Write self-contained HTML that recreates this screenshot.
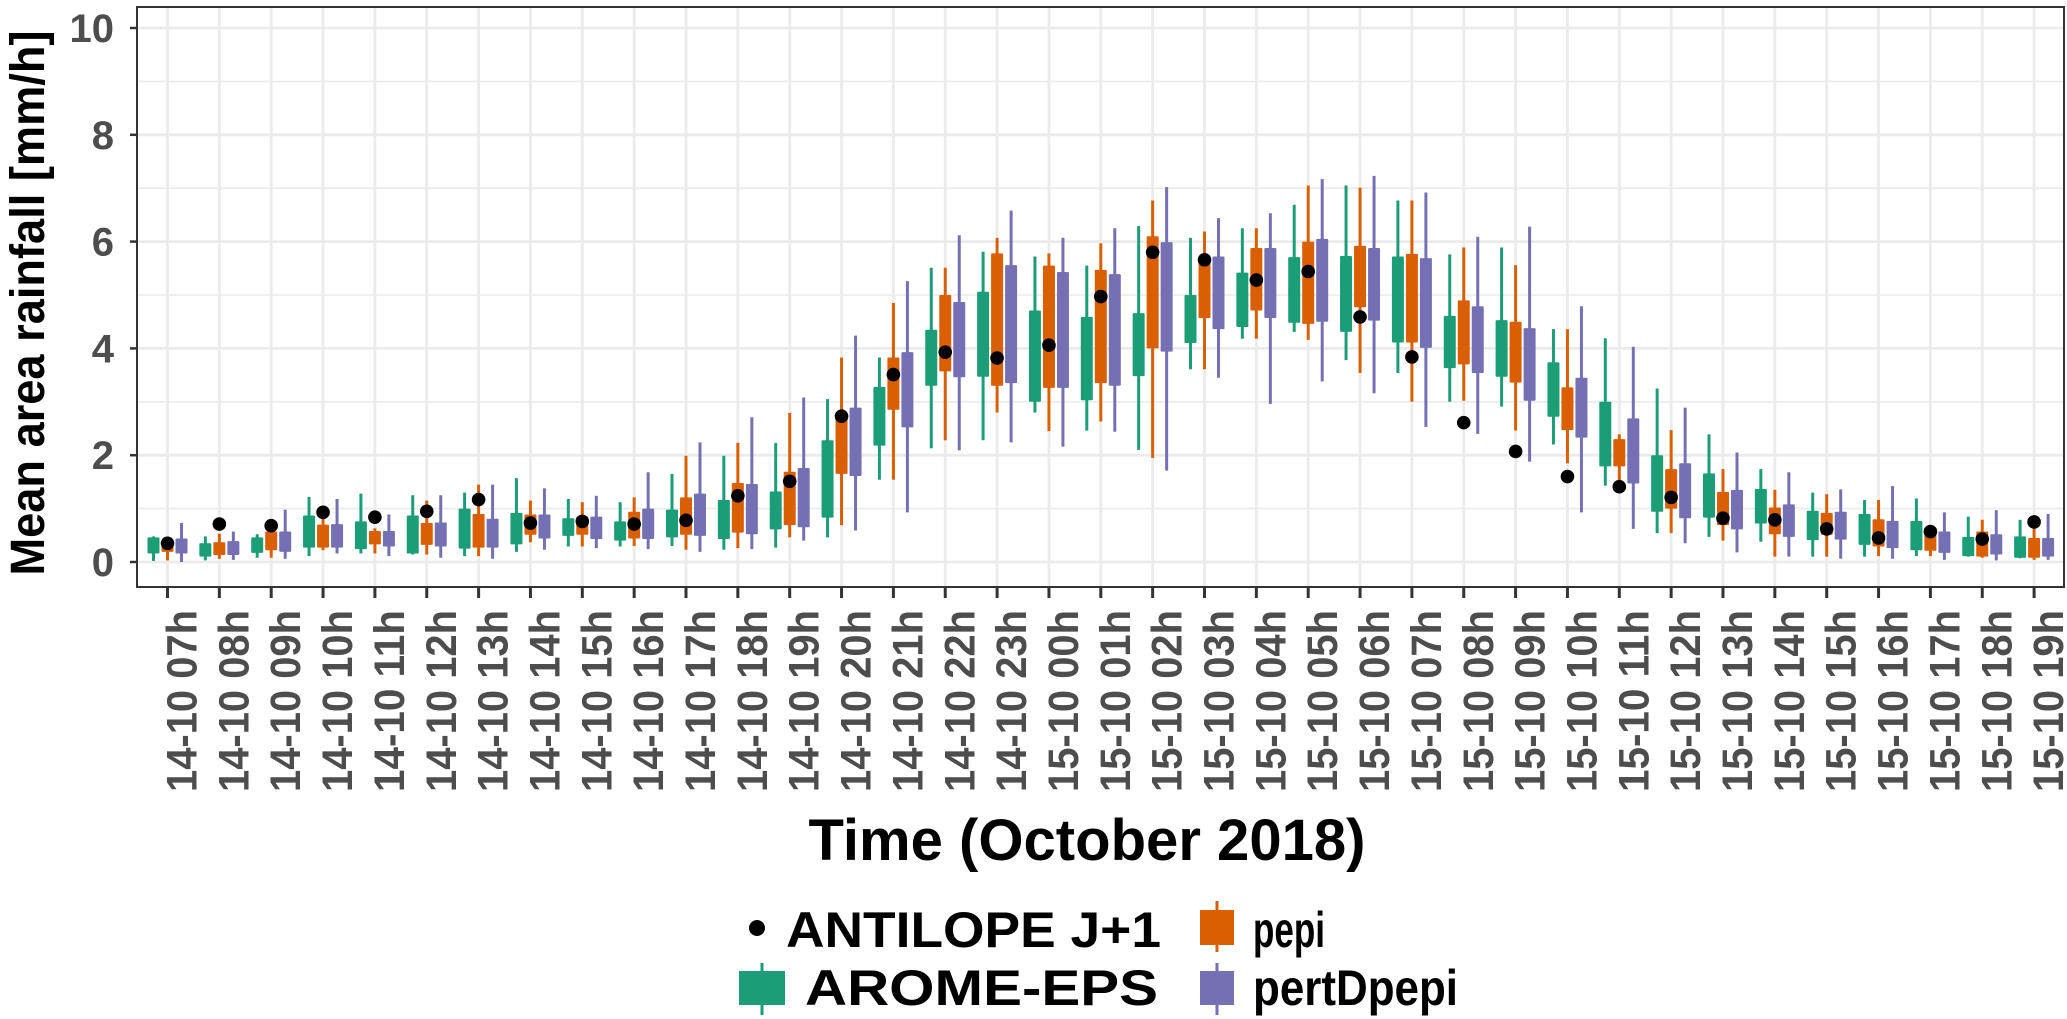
<!DOCTYPE html>
<html><head><meta charset="utf-8"><style>
html,body{margin:0;padding:0;background:#fff;}
svg{display:block;font-family:"Liberation Sans",Arial,sans-serif;}
</style></head><body>
<svg id="chart" width="2067" height="1019" viewBox="0 0 2067 1019" xmlns="http://www.w3.org/2000/svg">
<g id="grid"></g>
<g id="marks"></g>
<rect x="137" y="7" width="1927" height="580" fill="none" stroke="#333" stroke-width="2"/>
<g id="axes"></g>
<text transform="translate(44,303) rotate(-90)" text-anchor="middle" font-weight="bold" font-size="48" fill="#000" textLength="545" lengthAdjust="spacingAndGlyphs">Mean area rainfall [mm/h]</text>
<text x="1087" y="860" text-anchor="middle" font-weight="bold" font-size="58" fill="#000" textLength="557" lengthAdjust="spacingAndGlyphs">Time (October 2018)</text>
<g>
  <circle cx="757" cy="928" r="8" fill="#000"/>
  <text x="786" y="947" font-weight="bold" font-size="50" textLength="375" lengthAdjust="spacingAndGlyphs">ANTILOPE J+1</text>
  <line x1="1217" x2="1217" y1="901" y2="952" stroke="#d95f02" stroke-width="3"/>
  <rect x="1200" y="910" width="34" height="35" fill="#d95f02"/>
  <text x="1253" y="947" font-weight="bold" font-size="50" textLength="72" lengthAdjust="spacingAndGlyphs">pepi</text>
  <line x1="762" x2="762" y1="963" y2="1015" stroke="#1b9e77" stroke-width="3"/>
  <rect x="739" y="971" width="46" height="34" fill="#1b9e77"/>
  <text x="805" y="1005" font-weight="bold" font-size="50" textLength="353" lengthAdjust="spacingAndGlyphs">AROME-EPS</text>
  <line x1="1217" x2="1217" y1="963" y2="1015" stroke="#7570b3" stroke-width="3"/>
  <rect x="1200" y="971" width="34" height="34" fill="#7570b3"/>
  <text x="1253" y="1005" font-weight="bold" font-size="50" textLength="205" lengthAdjust="spacingAndGlyphs">pertDpepi</text>
</g>
</svg>
<script>
const categories = ["14-10 07h","14-10 08h","14-10 09h","14-10 10h","14-10 11h","14-10 12h","14-10 13h","14-10 14h","14-10 15h","14-10 16h","14-10 17h","14-10 18h","14-10 19h","14-10 20h","14-10 21h","14-10 22h","14-10 23h","15-10 00h","15-10 01h","15-10 02h","15-10 03h","15-10 04h","15-10 05h","15-10 06h","15-10 07h","15-10 08h","15-10 09h","15-10 10h","15-10 11h","15-10 12h","15-10 13h","15-10 14h","15-10 15h","15-10 16h","15-10 17h","15-10 18h","15-10 19h"];
const yTicks = [0,2,4,6,8,10];
const observed = [0.35,0.71,0.68,0.93,0.84,0.95,1.17,0.73,0.76,0.71,0.78,1.24,1.51,2.73,3.51,3.93,3.82,4.06,4.97,5.8,5.66,5.28,5.44,4.59,3.84,2.61,2.07,1.6,1.41,1.21,0.82,0.79,0.62,0.45,0.57,0.43,0.75];
const aromeMin = [0.02,0.03,0.08,0.11,0.16,0.14,0.11,0.19,0.29,0.29,0.30,0.23,0.27,0.46,1.54,2.13,2.28,2.80,2.46,2.10,3.61,4.18,4.31,3.78,3.54,3.00,2.91,2.20,1.43,0.54,0.47,0.38,0.10,0.10,0.11,0.10,0.07];
const aromeQ1 = [0.16,0.10,0.17,0.27,0.24,0.16,0.25,0.33,0.49,0.40,0.46,0.43,0.61,0.83,2.18,3.30,3.47,3.00,3.03,3.48,4.10,4.40,4.48,4.31,4.11,3.63,3.47,2.72,1.79,0.94,0.83,0.72,0.41,0.32,0.22,0.11,0.08];
const aromeQ3 = [0.46,0.35,0.46,0.87,0.76,0.87,1.00,0.92,0.82,0.76,0.98,1.16,1.32,2.28,3.28,4.35,5.06,4.71,4.59,4.66,5.00,5.42,5.71,5.73,5.72,4.61,4.53,3.74,3.00,2.00,1.66,1.37,0.96,0.90,0.77,0.47,0.48];
const aromeMax = [0.48,0.48,0.52,1.22,1.28,1.25,1.30,1.57,1.18,1.12,1.65,1.99,2.23,3.05,3.83,5.51,5.81,5.72,5.55,6.29,6.07,6.25,6.69,7.05,6.77,5.76,5.89,4.36,4.19,3.25,2.39,1.74,1.30,1.16,1.19,0.85,0.79];
const pepiMin = [0.03,0.06,0.08,0.22,0.16,0.14,0.11,0.37,0.29,0.30,0.23,0.26,0.46,0.69,1.54,2.28,2.80,2.45,2.63,1.95,3.61,4.18,4.16,3.54,3.00,3.02,2.46,1.85,1.53,0.54,0.40,0.10,0.10,0.11,0.11,0.08,0.04];
const pepiQ1 = [0.19,0.13,0.22,0.27,0.33,0.32,0.27,0.51,0.51,0.44,0.51,0.55,0.69,1.65,2.85,3.57,3.30,3.26,3.35,4.00,4.57,4.71,4.46,4.77,4.11,3.70,3.36,2.47,1.79,1.00,0.69,0.52,0.51,0.29,0.21,0.10,0.08];
const pepiQ3 = [0.30,0.37,0.57,0.70,0.58,0.73,0.90,0.89,0.85,0.94,1.21,1.48,1.69,2.70,3.83,5.00,5.78,5.55,5.47,6.10,5.72,5.88,6.00,5.92,5.77,4.90,4.50,3.27,2.30,1.74,1.31,1.02,0.92,0.80,0.55,0.57,0.45];
const pepiMax = [0.40,0.53,0.70,0.95,0.63,1.15,1.45,1.15,1.12,1.21,1.99,2.23,2.79,3.83,4.85,5.51,6.07,5.78,5.97,6.77,6.19,6.25,7.05,7.01,6.77,5.89,5.56,4.36,2.39,2.47,1.74,1.35,1.27,1.16,0.62,0.79,0.63];
const pertMin = [0.00,0.04,0.06,0.16,0.11,0.08,0.06,0.23,0.26,0.24,0.19,0.24,0.40,0.59,0.93,2.09,2.24,2.16,2.44,1.71,3.45,2.96,3.38,3.16,2.53,2.40,1.88,0.93,0.62,0.35,0.18,0.10,0.06,0.06,0.04,0.03,0.04];
const pertQ1 = [0.16,0.13,0.19,0.27,0.29,0.29,0.27,0.44,0.43,0.43,0.49,0.52,0.65,1.61,2.52,3.46,3.35,3.26,3.30,3.94,4.36,4.57,4.50,4.52,4.01,3.54,3.02,2.33,1.47,0.82,0.61,0.47,0.42,0.26,0.17,0.14,0.10];
const pertQ3 = [0.44,0.39,0.57,0.71,0.58,0.74,0.81,0.89,0.85,1.00,1.28,1.46,1.76,2.89,3.93,4.87,5.56,5.43,5.39,5.99,5.72,5.88,6.05,5.88,5.69,4.79,4.38,3.45,2.69,1.85,1.35,1.08,0.94,0.77,0.57,0.52,0.45];
const pertMax = [0.73,0.57,0.98,1.18,0.89,1.25,1.45,1.38,1.24,1.68,2.24,2.71,3.08,4.24,5.26,6.12,6.58,6.07,6.25,7.02,6.44,6.53,7.17,7.23,6.92,6.09,6.28,4.79,4.03,2.89,2.05,1.68,1.36,1.42,0.93,0.97,0.90];

const NS = "http://www.w3.org/2000/svg";
function yScale(v){ return 562 - v*53.4; }
function xScale(i){ return 167.5 + i*51.85; }
function mk(tag, attrs, parent){
  const e = document.createElementNS(NS, tag);
  for (const k in attrs) e.setAttribute(k, attrs[k]);
  parent.appendChild(e);
  return e;
}
const grid = document.getElementById('grid');
const marks = document.getElementById('marks');
const axes = document.getElementById('axes');

for (let v = 1; v <= 9; v += 2) {
  const l = mk('line', {x1:137, x2:2064, y1:yScale(v), y2:yScale(v), stroke:'#ebebeb', 'stroke-width':1.6}, grid);
  
  
}
yTicks.forEach(v => {
  const l = mk('line', {x1:137, x2:2064, y1:yScale(v), y2:yScale(v), stroke:'#ebebeb', 'stroke-width':2.8}, grid);
  
  
  const t = mk('text', {x:114, y:yScale(v)+14, 'text-anchor':'end', 'font-size':40, 'font-weight':'bold', fill:'#4d4d4d'}, axes);
  t.textContent = v;
  
  
  const tk = mk('line', {x1:130, x2:137, y1:yScale(v), y2:yScale(v), stroke:'#333', 'stroke-width':2.5}, axes);
  
  
});
categories.forEach((c, i) => {
  const x = xScale(i);
  const l = mk('line', {x1:x, x2:x, y1:7, y2:587, stroke:'#ebebeb', 'stroke-width':2.8}, grid);
  
  
  const tk = mk('line', {x1:x, x2:x, y1:587, y2:598, stroke:'#333', 'stroke-width':3}, axes);
  
  
  const t = mk('text', {transform:'translate(' + (x+15) + ',610) rotate(-90)', 'text-anchor':'end', 'dominant-baseline':'central', 'font-size':43, 'font-weight':'bold', fill:'#4d4d4d', textLength:182, lengthAdjust:'spacingAndGlyphs'}, axes);
  t.textContent = c;
  
  
});

const series = [
  {name:'arome-eps', color:'#1b9e77', off:-14, mn:aromeMin, q1:aromeQ1, q3:aromeQ3, mx:aromeMax},
  {name:'pepi', color:'#d95f02', off:0, mn:pepiMin, q1:pepiQ1, q3:pepiQ3, mx:pepiMax},
  {name:'pertdpepi', color:'#7570b3', off:14, mn:pertMin, q1:pertQ1, q3:pertQ3, mx:pertMax}
];
series.forEach(s => {
  categories.forEach((c, i) => {
    const cx = xScale(i) + s.off;
    const w = mk('line', {x1:cx, x2:cx, y1:yScale(s.mx[i]), y2:yScale(s.mn[i]), stroke:s.color, 'stroke-width':3}, marks);
    
    
    const top = yScale(s.q3[i]);
    const b = mk('rect', {x:cx-6, y:top, width:12, height:Math.max(1, yScale(s.q1[i]) - top), fill:s.color, rx:1}, marks);
    
    
  });
});
observed.forEach((v, i) => {
  const d = mk('circle', {cx:xScale(i), cy:yScale(v), r:6.8, fill:'#000'}, marks);
  
  
});
</script>
</body></html>
